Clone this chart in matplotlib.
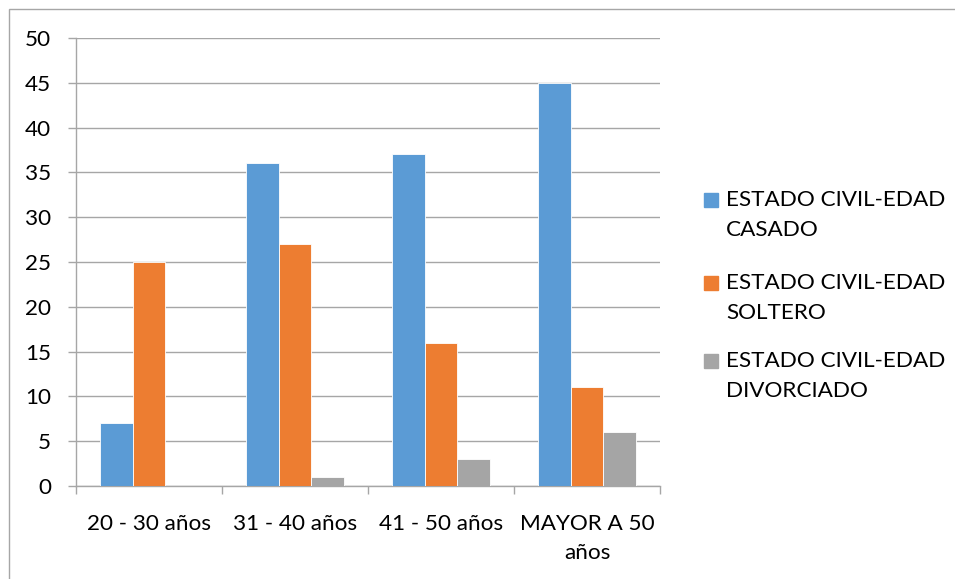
import matplotlib.pyplot as plt
import numpy as np
from matplotlib.patches import Rectangle

plt.rcParams['font.family'] = ['Lato', 'DejaVu Sans']

categories = ["20 - 30 años", "31 - 40 años", "41 - 50 años", "MAYOR A 50\naños"]
casado = [7, 36, 37, 45]
soltero = [25, 27, 16, 11]
divorciado = [0, 1, 3, 6]
series_names = ["ESTADO CIVIL-EDAD\nCASADO", "ESTADO CIVIL-EDAD\nSOLTERO",
                "ESTADO CIVIL-EDAD\nDIVORCIADO"]
colors = ["#5B9BD5", "#ED7D31", "#A5A5A5"]
yticks = [0, 5, 10, 15, 20, 25, 30, 35, 40, 45, 50]

W, H = 955, 579
fs = 16.2

fig = plt.figure(figsize=(W / 100, H / 100), dpi=100)
ax = fig.add_axes([76 / W, 1 - 486 / H, (660 - 76) / W, (486 - 38) / H])

# outer chart border
fig.patches.append(Rectangle((9 / W, -0.01), 1.0, 1 - 9 / H + 0.01,
                             transform=fig.transFigure, fill=False,
                             edgecolor="#A6A6A6", linewidth=1.0))

x = np.arange(len(categories))
w = 0.222
for i, vals in enumerate([casado, soltero, divorciado]):
    ax.bar(x + (i - 1) * w, vals, width=w, color=colors[i],
           edgecolor="white", linewidth=0.6, zorder=3)

ax.set_xlim(-0.5, len(categories) - 0.5)
ax.set_ylim(0, 50)
ax.set_yticks(yticks)
ax.yaxis.grid(True, color="#A6A6A6", linewidth=1.0, zorder=0)
ax.set_axisbelow(True)

for s in ["top", "right"]:
    ax.spines[s].set_visible(False)
for s in ["left", "bottom"]:
    ax.spines[s].set_color("#A6A6A6")
    ax.spines[s].set_linewidth(1.0)

ax.set_xticks(x)
ax.set_xticklabels(categories, fontsize=fs, linespacing=1.6)
ax.tick_params(axis="x", length=0, pad=20)
ax.set_xticks(np.arange(len(categories) + 1) - 0.5, minor=True)
ax.tick_params(axis="x", which="minor", length=6, color="#A6A6A6", width=1.0)
ax.tick_params(axis="y", length=6, color="#A6A6A6", width=1.0, labelsize=fs, pad=12)

# legend, marker level with the first text line
legend_y = [200, 283, 361]
for name, c, yy in zip(series_names, colors, legend_y):
    fig.patches.append(Rectangle((704 / W, 1 - (yy + 7) / H), 14 / W, 14 / H,
                                 transform=fig.transFigure, color=c))
    fig.text(726 / W, 1 - (yy - 10) / H, name, fontsize=fs, va="top", ha="left",
             linespacing=1.6)

fig.savefig("out.png", dpi=100)
